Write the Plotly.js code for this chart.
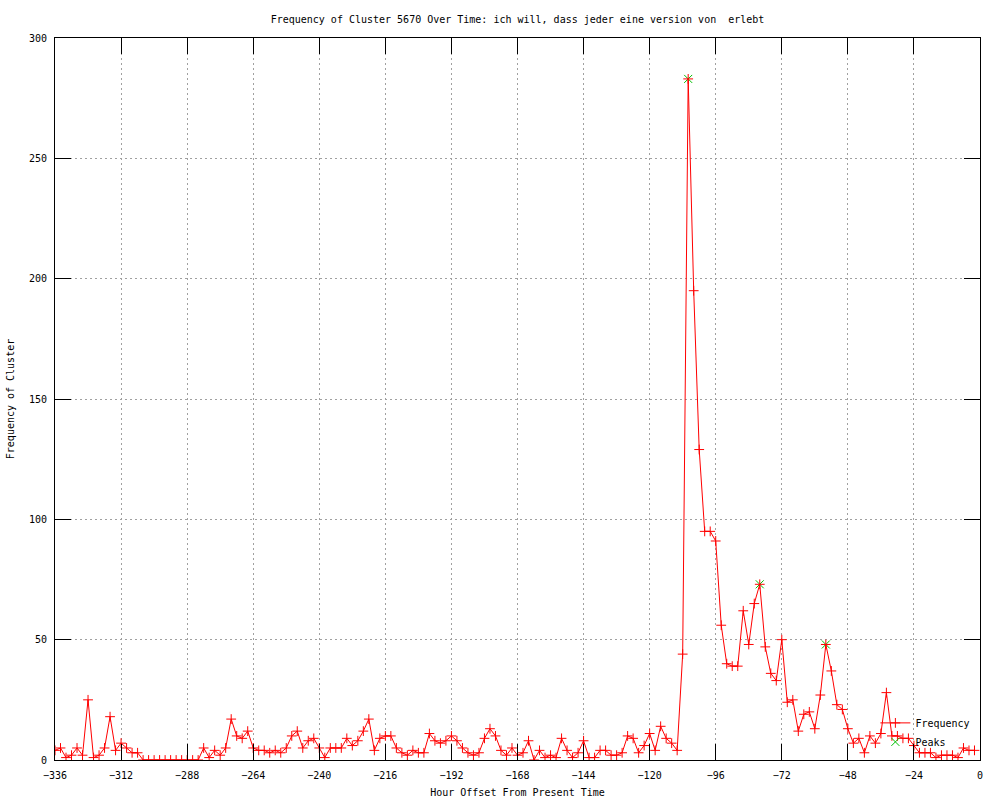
<!DOCTYPE html>
<html>
<head>
<meta charset="utf-8">
<script src="https://cdn.plot.ly/plotly-3.0.1.min.js"></script>
<style>
  html, body { margin: 0; padding: 0; background: #fff; }
  #chart { width: 1000px; height: 800px; }
</style>
</head>
<body>
<div id="chart"></div>
<script>
// Hour offsets (every 2 hours)
const hours = [
  -336,-334,-332,-330,-328,-326,-324,-322,-320,-318,-316,-314,-312,-310,-308,-306,
  -304,-302,-300,-298,-296,-294,-292,-290,-288,-286,-284,-282,-280,-278,-276,-274,
  -272,-270,-268,-266,-264,-262,-260,-258,-256,-254,-252,-250,-248,-246,-244,-242,
  -240,-238,-236,-234,-232,-230,-228,-226,-224,-222,-220,-218,-216,-214,-212,-210,
  -208,-206,-204,-202,-200,-198,-196,-194,-192,-190,-188,-186,-184,-182,-180,-178,
  -176,-174,-172,-170,-168,-166,-164,-162,-160,-158,-156,-154,-152,-150,-148,-146,
  -144,-142,-140,-138,-136,-134,-132,-130,-128,-126,-124,-122,-120,-118,-116,-114,
  -112,-110,-108,-106,-104,-102,-100,-98,-96,-94,-92,-90,-88,-86,-84,-82,
  -80,-78,-76,-74,-72,-70,-68,-66,-64,-62,-60,-58,-56,-54,-52,-50,
  -48,-46,-44,-42,-40,-38,-36,-34,-32,-30,-28,-26,-24,-22,-20,-18,
  -16,-14,-12,-10,-8,-6,-4,-2
];
// Frequency of cluster per hour offset
const frequency = [
  4,5,1,2,5,2,25,1,2,5,18,4,7,5,3,3,
  0,0,0,0,0,0,0,0,0,0,0,5,1,4,2,5,
  17,10,9,12,5,4,4,3,4,3,5,10,12,5,8,9,
  5,1,5,5,5,9,6,8,12,17,4,9,10,10,5,3,
  2,4,3,3,11,8,7,8,10,8,5,3,2,3,9,13,
  10,4,2,5,2,3,8,0,4,1,2,1,9,4,1,3,
  8,1,1,4,4,2,2,3,10,9,3,6,11,4,14,9,
  7,4,44,283,195,129,95,95,91,56,40,39,39,62,48,65,
  73,47,36,33,50,24,25,12,19,20,13,27,48,37,23,21,
  13,7,9,3,10,7,11,28,10,10,9,9,6,3,3,3,
  1,2,2,2,1,5,4,4
];
// Detected peaks
const peakHours = [-106, -80, -56];
const peakValues = [283, 73, 48];

const xTicks = [-336,-312,-288,-264,-240,-216,-192,-168,-144,-120,-96,-72,-48,-24,0];
const yTicks = [0,50,100,150,200,250,300];

const FONT = 'DejaVu Sans Mono, Liberation Mono, monospace';

const traces = [
  {
    x: peakHours, y: peakValues, name: 'Peaks', legendrank: 2,
    type: 'scatter', mode: 'markers',
    marker: { symbol: 'x-thin-open', size: 8, color: '#00c000', line: { color: '#00c000', width: 1 } },
    hoverinfo: 'skip'
  },
  {
    x: hours, y: frequency, name: 'Frequency', legendrank: 1,
    type: 'scatter', mode: 'lines+markers',
    line: { color: '#ff0000', width: 1 },
    marker: { symbol: 'cross-thin-open', size: 7, color: '#ff0000', line: { color: '#ff0000', width: 1 } },
    hoverinfo: 'skip'
  }
];

const axisCommon = {
  showline: true, linecolor: '#000', linewidth: 1, mirror: 'ticks',
  ticks: 'inside', ticklen: 16, tickcolor: '#000', tickwidth: 1,
  showgrid: true, gridcolor: '#a0a0a0', gridwidth: 1, griddash: '2px,3px',
  zeroline: false,
  tickfont: { family: FONT, size: 10, color: '#000' }
};

const layout = {
  width: 1000, height: 800,
  margin: { l: 55, r: 20, t: 38, b: 40, pad: 0 },
  paper_bgcolor: '#fff', plot_bgcolor: '#fff',
  font: { family: FONT, size: 10, color: '#000' },
  title: {
    text: 'Frequency of Cluster 5670 Over Time: ich will, dass jeder eine version von \u00a0erlebt',
    font: { family: FONT, size: 10, color: '#000' },
    xref: 'paper', x: 0.5, xanchor: 'center',
    yref: 'container', y: 0.976, yanchor: 'middle'
  },
  xaxis: Object.assign({}, axisCommon, {
    range: [-336, 0], tickmode: 'array', tickvals: xTicks,
    ticklabelstandoff: 6,
    title: { text: 'Hour Offset From Present Time', font: { family: FONT, size: 10, color: '#000' }, standoff: 8 },
    automargin: false
  }),
  yaxis: Object.assign({}, axisCommon, {
    range: [0, 300], tickmode: 'array', tickvals: yTicks,
    ticklabelstandoff: 5,
    title: { text: 'Frequency of Cluster', font: { family: FONT, size: 10, color: '#000' }, standoff: 12 },
    automargin: false
  }),
  showlegend: true,
  legend: {
    x: 0.995, xanchor: 'right', y: 0.005, yanchor: 'bottom',
    bgcolor: 'rgba(0,0,0,0)', borderwidth: 0,
    font: { family: FONT, size: 10, color: '#000' },
    tracegroupgap: 0, itemwidth: 30, traceorder: 'normal'
  }
};

Plotly.newPlot('chart', traces, layout, { staticPlot: true, displayModeBar: false });
</script>
</body>
</html>
